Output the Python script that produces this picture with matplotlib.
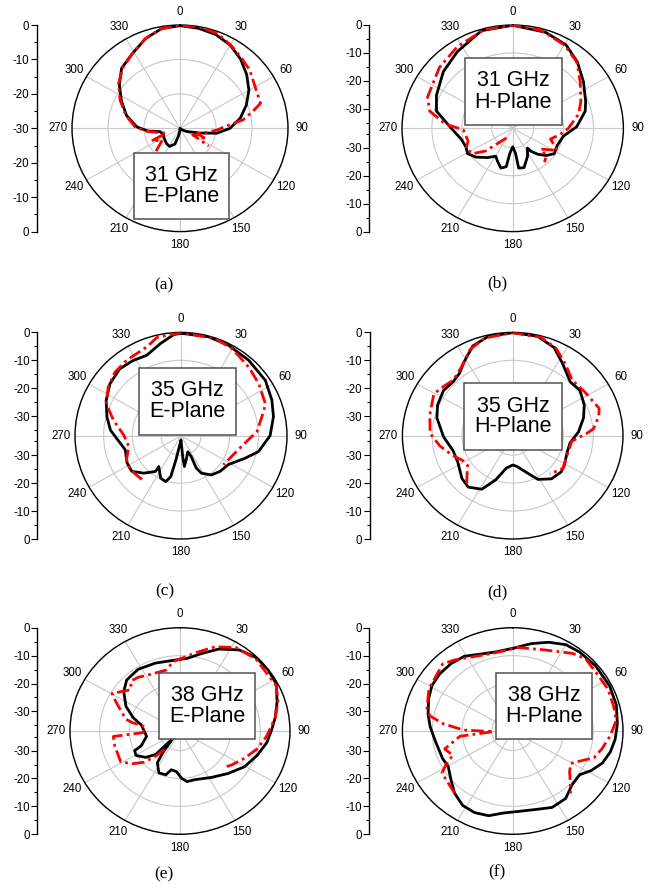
import numpy as np
import matplotlib
matplotlib.use('Agg')
import matplotlib.pyplot as plt
from matplotlib.patches import Rectangle

# ---------------- data (angle in degrees, clockwise from top; gain in dB) ----------------
A_SIM_ANG = [0, 10, 20, 30, 40, 50, 60, 70, 80, 90, 98, 104, 117, 135, 160, 180, 190, 197, 209, 220,
             231, 240, 250, 260, 265, 272, 284, 296, 307, 317, 328, 340, 350, 360]
A_SIM_DB = [-0.2, -0.5, -1.0, -2.1, -3.8, -5.8, -7.9, -10.4, -13.0, -16.1, -19.7, -24.3, -28.0, -29.5,
            -30.0, -29.5, -27.9, -25.2, -24.0, -24.2, -24.6, -24.8, -25.0, -24.4, -21.0, -18.0, -14.7,
            -11.9, -8.9, -6.2, -4.7, -2.2, -0.6, -0.2]
A_MEAS_ANG = [-135, -125, -115, -110, -102, -95, -88, -76, -64, -53, -42, -30, -20, -10, 0, 11, 21, 31,
              40, 49, 61, 72, 76, 82, 87, 93, 102, 108, 113, 118, 123]
A_MEAS_DB = [-20.6, -24.0, -21.3, -25.8, -24.0, -20.5, -17.5, -14.5, -11.5, -8.6, -6.3, -4.3, -2.2, -0.6,
             0.0, -0.1, -0.6, -2.1, -3.4, -4.3, -6.0, -6.5, -9.0, -12.3, -17.0, -19.8, -23.4, -25.0,
             -22.0, -26.0, -20.5]

B_SIM_ANG = [0, 17.6, 30.8, 42.4, 55, 68.6, 75.8, 88.5, 99.3, 112.6, 123.3, 131.2, 138, 143.4, 145,
             153.7, 165, 172, 174, 180, 186, 188.9, 195.4, 203, 209.5, 219, 230.2, 239, 246.5, 257,
             271.5, 283.6, 294.9, 311.2, 326, 343.4, 360]
B_SIM_DB = [-0.1, -0.9, -2.2, -4.9, -8.1, -10.8, -12.0, -15.6, -19.8, -20.9, -20.4, -22.2, -24.5, -26.8,
            -28.4, -25.8, -22.4, -22.6, -28.0, -30.4, -28.0, -23.1, -22.2, -24.1, -25.5, -23.5, -20.9,
            -19.4, -20.0, -19.4, -16.0, -10.8, -8.9, -6.2, -3.9, -0.5, -0.1]
B_MEAS_ANG = [211, 228, 236, 245, 253, 268, 274, 282.5, 291.6, 311.7, 327.7, 345, 360, 375, 390, 402,
              413.7, 427.2, 437, 450, 458, 467, 477.9, 488.4, 491.2, 498.8]
B_MEAS_DB = [-33.0, -24.9, -20.7, -19.8, -21.4, -20.5, -14.4, -8.6, -6.4, -4.2, -2.4, -0.4, -0.1, -0.6,
             -2.5, -5.0, -9.0, -12.3, -14.4, -18.4, -21.0, -23.8, -20.1, -25.0, -22.2, -20.8]

C_SIM_ANG = [0, 15, 27, 41, 56, 68, 78, 90, 102, 110, 122, 133, 143, 152, 155.3, 154.5, 157.4, 168.4,
             173.9, 175.5, 180, 188.6, 191.6, 193.7, 198, 205, 215, 214.8, 224.2, 233.3, 242.6, 255.4,
             274.6, 284.5, 295.7, 306.8, 318.3, 328, 337.5, 347.8, 356, 360]
C_SIM_DB = [-0.3, -0.3, -0.6, -1.1, -1.5, -2.8, -4.0, -5.9, -9.4, -13.3, -17.5, -18.3, -19.4, -21.8,
            -24.2, -28.7, -30.8, -28.1, -25.9, -29.5, -35.5, -33.0, -28.1, -21.9, -19.7, -20.2, -23.5,
            -21.4, -18.3, -15.6, -15.8, -16.9, -12.3, -10.3, -8.0, -6.0, -4.9, -5.3, -5.8, -3.2, -0.7, -0.3]
C_MEAS_ANG = [221, 235.5, 245.7, 258, 270.7, 283.2, 293.6, 304.4, 314.6, 324.8, 339.5, 346.7, 360,
              378.9, 389.8, 404, 415.7, 428.8, 433.6, 447, 453.7, 468.3, 485.2]
C_MEAS_DB = [-16.2, -15.5, -16.1, -18.4, -17.0, -12.8, -8.5, -6.2, -4.6, -4.0, -3.0, -0.8, -0.1, -0.2,
             -1.1, -2.9, -4.1, -5.4, -7.0, -10.5, -13.5, -17.2, -18.9]

D_SIM_ANG = [0, 13, 23.7, 32.6, 45, 54.2, 65.4, 75, 86.5, 97.6, 108, 121.5, 128.5, 139.9, 151.6, 159.6,
             172.6, 180, 190.4, 199.8, 208.4, 219, 228, 243, 254.9, 269, 284, 293.5, 304.9, 314, 321.4,
             328.7, 337.4, 347, 360]
D_SIM_DB = [-0.1, -0.4, -2.5, -6.1, -9.7, -9.2, -10.6, -12.4, -14.9, -17.6, -17.8, -16.7, -16.2, -16.8,
            -19.2, -22.7, -25.9, -26.5, -25.2, -20.2, -15.2, -13.3, -14.1, -16.3, -16.3, -13.8, -10.8,
            -9.5, -8.7, -9.2, -8.4, -5.8, -2.2, -0.5, -0.1]
D_MEAS_ANG = [222, 235, 242.2, 250.5, 261.4, 271.6, 285, 299.5, 305, 315, 325, 335, 345, 360, 375, 385,
              395, 405, 417.1, 431.3, 436.4, 444.8, 448.2, 455.8, 468, 485, 497.8]
D_MEAS_DB = [-13.9, -18.5, -18.0, -15.7, -12.3, -9.3, -8.2, -6.6, -7.5, -8.8, -7.0, -3.0, -0.8, -0.1,
             -0.5, -2.5, -6.0, -8.8, -8.2, -6.4, -7.3, -9.8, -12.2, -17.1, -17.5, -16.5, -18.5]

E_SIM_ANG = [0, 5.2, 14.4, 23.9, 34.4, 44, 53.4, 62.6, 72.2, 81.4, 89.4, 98.1, 108.5, 120.5, 133.3,
             147.6, 164.8, 172.5, 178, 184.7, 192, 196.9, 205.3, 213.8, 216.7, 222, 223.6, 224.2, 230.6,
             239.4, 245.3, 247.8, 260.4, 279, 287, 295.9, 306.7, 315.5, 327.4, 341.1, 357.3, 360]
E_SIM_DB = [-11.3, -10.9, -8.4, -4.9, -1.8, -0.3, -0.1, -0.5, -2.7, -4.6, -6.2, -7.5, -9.6, -11.8, -14.8,
            -17.3, -18.9, -18.7, -20.0, -22.4, -22.8, -20.6, -20.4, -23.3, -27.2, -33.4, -30.3, -25.3,
            -22.1, -19.8, -20.2, -22.9, -25.6, -23.9, -20.5, -16.8, -13.4, -11.4, -10.8, -11.3, -11.5, -11.3]
E_MEAS_ANG = [218, 222.3, 227.3, 233.9, 241, 256.4, 265, 267.4, 277, 280.9, 283.2, 292, 297.8, 300.5,
              311.4, 317.9, 324, 335.2, 347.7, 355, 363.8, 371.9, 381.4, 392.1, 404.6, 423.4, 432.3,
              441.4, 453.7, 464, 474.6, 485.5, 490.7]
E_MEAS_DB = [-28.5, -24.9, -20.5, -17.1, -14.2, -14.4, -14.5, -24.6, -25.2, -20.4, -18.3, -15.0, -11.9,
             -10.5, -14.7, -12.7, -13.2, -14.5, -14.7, -12.0, -10.4, -8.1, -4.6, -1.7, -0.7, -0.8, -2.4,
             -4.6, -7.8, -10.3, -13.3, -15.9, -17.2]

F_SIM_ANG = [0, 11.2, 20.8, 30, 38.3, 50, 63.5, 75, 85.8, 95, 102.9, 110.9, 118.3, 124.8, 134, 143.7,
             154.2, 165.3, 177.2, 186.5, 194.9, 203.6, 212.2, 221.2, 229.8, 239.5, 247.3, 260.9, 273,
             281.8, 292.4, 301, 309.9, 319.4, 328.8, 339.3, 348.6, 360]
F_SIM_DB = [-7.4, -5.1, -3.0, -1.3, -0.9, -0.7, -0.7, -1.0, -1.8, -2.5, -3.4, -4.8, -7.1, -9.6, -9.3,
            -7.0, -6.6, -7.9, -8.1, -7.4, -5.6, -5.1, -5.5, -7.4, -9.9, -11.9, -11.5, -10.9, -9.3, -8.0,
            -6.5, -5.4, -5.1, -5.2, -5.7, -7.5, -8.1, -7.4]
F_MEAS_ANG = [221.2, 237.6, 241.6, 246.6, 254.3, 263.9, 268, 271.2, 276.3, 281, 285.9, 298.2, 315.7,
              322.4, 332.3, 346, 358, 362.7, 380.6, 395.9, 403.5, 415.5, 424.7, 435.5, 443.9, 453.3, 462,
              469.4, 473.5, 480.7, 487.3, 494.1, 499]
F_MEAS_DB = [-7.4, -8.9, -11.5, -15.1, -13.3, -19.2, -30.5, -20.5, -13.6, -8.7, -7.1, -5.1, -3.4, -4.9,
             -7.1, -8.4, -7.8, -7.0, -6.0, -2.7, -1.4, -2.1, -1.7, -2.0, -2.1, -4.3, -6.4, -8.1, -10.9,
             -14.3, -13.0, -10.1, -7.4]

THETA_LABELS = [0, 30, 60, 90, 120, 150, 180, 210, 240, 270, 300, 330]
PANEL_TITLES = ['31 GHz\nE-Plane', '31 GHz\nH-Plane', '35 GHz\nE-Plane',
                '35 GHz\nH-Plane', '38 GHz\nE-Plane', '38 GHz\nH-Plane']
SUB_LABELS = ['(a)', '(b)', '(c)', '(d)', '(e)', '(f)']

# ---------------- layout (pixels) ----------------
W, H = 656, 893
fig = plt.figure(figsize=(W / 100, H / 100), dpi=100)
fig.patch.set_facecolor('white')

panels = [
    dict(cx=180.0, cy=128.3, rx=108, ry=103.3, rmin=-30, axx=37.0, box=(134, 153, 229, 219), lab=(164, 285),
         sim=(A_SIM_ANG, A_SIM_DB), meas=(A_MEAS_ANG, A_MEAS_DB)),
    dict(cx=512.7, cy=128.3, rx=110.7, ry=103.3, rmin=-37, axx=369.3, box=(465, 58, 562, 125), lab=(497, 283),
         sim=(B_SIM_ANG, B_SIM_DB), meas=(B_MEAS_ANG, B_MEAS_DB)),
    dict(cx=181.0, cy=435.7, rx=106, ry=103.3, rmin=-37, axx=37.3, box=(139, 368, 236, 435), lab=(165, 591),
         sim=(C_SIM_ANG, C_SIM_DB), meas=(C_MEAS_ANG, C_MEAS_DB)),
    dict(cx=512.7, cy=435.7, rx=110.3, ry=103.3, rmin=-37, axx=370.0, box=(464, 383, 562, 450), lab=(497, 592),
         sim=(D_SIM_ANG, D_SIM_DB), meas=(D_MEAS_ANG, D_MEAS_DB)),
    dict(cx=180.0, cy=731.0, rx=110, ry=103.3, rmin=-37, axx=37.3, box=(159, 673, 255, 739), lab=(164, 874),
         sim=(E_SIM_ANG, E_SIM_DB), meas=(E_MEAS_ANG, E_MEAS_DB)),
    dict(cx=512.7, cy=731.0, rx=110.3, ry=103.3, rmin=-37, axx=369.3, box=(496, 673, 592, 739), lab=(497, 872),
         sim=(F_SIM_ANG, F_SIM_DB), meas=(F_MEAS_ANG, F_MEAS_DB)),
]

SANS = 'Liberation Sans'
SERIF = 'Liberation Serif'

for i, p in enumerate(panels):
    cx, cy, rx, ry, rmin = p['cx'], p['cy'], p['rx'], p['ry'], p['rmin']
    ax = fig.add_axes([(cx - rx) / W, 1 - (cy + ry) / H, 2 * rx / W, 2 * ry / H], projection='polar')
    ax.set_theta_zero_location('N')
    ax.set_theta_direction(-1)
    ax.set_rlim(rmin, 0)
    rings = [r for r in (-30, -20, -10, 0) if r > rmin]
    ax.set_rticks(rings)
    ax.set_yticklabels([])
    ax.set_thetagrids(THETA_LABELS, labels=[''] * len(THETA_LABELS))
    ax.set_aspect('auto')
    ax.grid(True, color='#c8c8c8', lw=0.8)
    ax.spines['polar'].set_color('black')
    ax.spines['polar'].set_linewidth(1.0)
    ax.set_facecolor('white')

    sa, sd = p['sim']
    ma, md = p['meas']
    ax.plot(np.deg2rad(sa), np.clip(sd, rmin, 0), color='black', lw=2.0, zorder=4,
            solid_joinstyle='round')
    ax.plot(np.deg2rad(ma), np.clip(md, rmin, 0), color='#ff0000', lw=2.0,
            linestyle=(0, (4.5, 1.5, 1.0, 1.5)), zorder=5)

    rlab = 0.13 * (0 - rmin)
    for a in THETA_LABELS:
        ax.text(np.deg2rad(a), rlab, str(a), ha='center', va='center', fontsize=8.3,
                family=SANS, clip_on=False)

    # left radial scale
    lax = fig.add_axes([p['axx'] / W, 1 - (cy + ry) / H, 0.0005, 2 * ry / H])
    rng = -rmin
    lax.set_ylim(-rng, rng)
    lax.set_xticks([])
    for s in ('top', 'right', 'bottom'):
        lax.spines[s].set_visible(False)
    lax.spines['left'].set_linewidth(1.0)
    seen = {}
    for v in (0, -10, -20, -30):
        seen[round(rng + v, 3)] = str(v)
        seen[round(-(rng + v), 3)] = str(v)
    pos = sorted(seen.keys())
    labs = [seen[k] for k in pos]
    lax.set_yticks(pos)
    lax.set_yticklabels(labs, fontsize=8.3, family=SANS)
    minor = []
    for v in (-5, -15, -25, -35):
        if rng + v > 0:
            minor += [rng + v, -(rng + v)]
    lax.set_yticks(minor, minor=True)
    lax.tick_params(axis='y', which='major', length=4, width=0.8, direction='out', pad=1.5)
    lax.tick_params(axis='y', which='minor', length=2.5, width=0.8, direction='out')
    lax.patch.set_alpha(0)

    # title box
    x0, y0, x1, y1 = p['box']
    rect = Rectangle((x0 / W, 1 - y1 / H), (x1 - x0) / W, (y1 - y0) / H, transform=fig.transFigure,
                     facecolor='white', edgecolor='#505050', lw=1.1, zorder=10)
    fig.add_artist(rect)
    fig.text((x0 + x1) / 2 / W, 1 - (y0 + y1) / 2 / H, PANEL_TITLES[i], ha='center', va='center',
             fontsize=15.5, family=SANS, linespacing=1.0, zorder=11)

    lx, ly = p['lab']
    fig.text(lx / W, 1 - ly / H, SUB_LABELS[i], ha='center', va='center', fontsize=12.5, family=SERIF)

fig.savefig('out.png', dpi=100, facecolor='white')
